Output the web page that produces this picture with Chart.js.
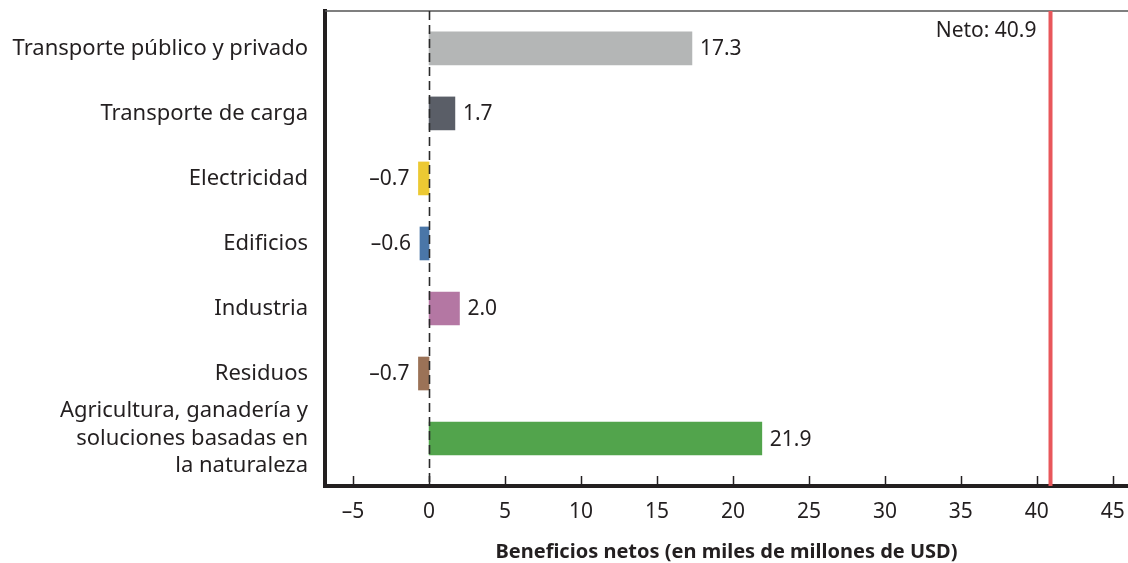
<!DOCTYPE html>
<html>
<head>
<meta charset="utf-8">
<script src="https://cdn.jsdelivr.net/npm/chart.js@4"></script>
<style>
    html, body { margin: 0; padding: 0; background: #fff; }
    #wrap { width: 1128px; height: 563px; position: relative; }
</style>
</head>
<body>
<div id="wrap"><canvas id="benefits_chart"></canvas></div>
<script>
const categories = [
    "Transporte público y privado",
    "Transporte de carga",
    "Electricidad",
    "Edificios",
    "Industria",
    "Residuos",
    ["Agricultura, ganadería y", "soluciones basadas en", "la naturaleza"]
];
const netBenefits = [17.3, 1.7, -0.7, -0.6, 2.0, -0.7, 21.9];
const barColors = ["#b4b6b6", "#5a5e67", "#ecc933", "#4a76a8", "#b477a3", "#9b7257", "#52a44c"];
const xTicks = [-5, 0, 5, 10, 15, 20, 25, 30, 35, 40, 45];
const netTotal = 40.9;

const textColor = "#231f20";
const fontFamily = "'Noto Sans', 'Open Sans', sans-serif";

function fmt(v, digits) {
    let s = Math.abs(v).toFixed(digits);
    return v < 0 ? "\u2013" + s : s;
}

// zero line, net line, inward ticks, top rule and value labels
const decorations = {
    id: "decorations",
    afterDatasetsDraw(chart) {
        const ctx = chart.ctx, area = chart.chartArea;
        const x = chart.scales.x;
        ctx.save();

        // top rule
        ctx.strokeStyle = "#555";
        ctx.lineWidth = 1.5;
        ctx.beginPath();
        ctx.moveTo(area.left, area.top);
        ctx.lineTo(area.right, area.top);
        ctx.stroke();

        // tick marks pointing up into the plot
        ctx.strokeStyle = textColor;
        ctx.lineWidth = 1.5;
        xTicks.forEach(function (t) {
            let px = Math.round(x.getPixelForValue(t)) + 0.5;
            ctx.beginPath();
            ctx.moveTo(px, area.bottom);
            ctx.lineTo(px, area.bottom - 10);
            ctx.stroke();
        });

        // dashed zero line
        let zx = Math.round(x.getPixelForValue(0)) + 0.5;
        ctx.setLineDash([9, 5]);
        ctx.strokeStyle = "#2a2a2a";
        ctx.lineWidth = 1.6;
        ctx.beginPath();
        ctx.moveTo(zx, area.top);
        ctx.lineTo(zx, area.bottom);
        ctx.stroke();
        ctx.setLineDash([]);

        // net total line
        let nx = x.getPixelForValue(netTotal);
        ctx.strokeStyle = "#e8575b";
        ctx.lineWidth = 4;
        ctx.beginPath();
        ctx.moveTo(nx, area.top);
        ctx.lineTo(nx, area.bottom);
        ctx.stroke();

        ctx.font = "21px " + fontFamily;
        ctx.fillStyle = textColor;
        ctx.textBaseline = "middle";
        ctx.textAlign = "right";
        ctx.fillText("Neto: " + netTotal.toFixed(1), nx - 14, area.top + 20);

        // value labels
        chart.getDatasetMeta(0).data.forEach(function (bar, i) {
            let v = netBenefits[i];
            if (v >= 0) {
                ctx.textAlign = "left";
                ctx.fillText(fmt(v, 1), bar.x + 8, bar.y + 1);
            } else {
                ctx.textAlign = "right";
                ctx.fillText(fmt(v, 1), bar.x - 9, bar.y + 1);
            }
        });
        ctx.restore();
    }
};

new Chart(document.getElementById("benefits_chart").getContext("2d"), {
    type: "bar",
    data: {
        datasets: [{
            data: netBenefits.map(function (v, i) { return { x: v, y: i }; }),
            backgroundColor: barColors,
            borderWidth: 0,
            barThickness: 33
        }]
    },
    options: {
        indexAxis: "y",
        responsive: true,
        maintainAspectRatio: false,
        animation: false,
        devicePixelRatio: 1,
        layout: { padding: { top: 11, left: 0, right: 0, bottom: 0 } },
        plugins: {
            legend: { display: false },
            tooltip: { enabled: false }
        },
        scales: {
            x: {
                type: "linear",
                position: "bottom",
                min: -6.85,
                max: 46,
                afterBuildTicks: function (scale) {
                    scale.ticks = xTicks.map(function (t) { return { value: t }; });
                },
                afterFit: function (scale) {
                    scale.height = 77;
                    scale.paddingLeft = 0;
                    scale.paddingRight = 0;
                },
                grid: { display: false, drawTicks: false },
                border: { display: true, color: textColor, width: 4 },
                ticks: {
                    padding: 13,
                    autoSkip: false,
                    maxRotation: 0,
                    color: textColor,
                    font: { family: fontFamily, size: 21 },
                    callback: function (v) { return fmt(v, 0); }
                },
                title: {
                    display: true,
                    text: "Beneficios netos (en miles de millones de USD)",
                    color: textColor,
                    font: { family: fontFamily, size: 20, weight: "bold" },
                    padding: { top: 0, bottom: -1 }
                }
            },
            y: {
                type: "linear",
                reverse: true,
                offset: false,
                min: -0.575,
                max: 6.73,
                afterBuildTicks: function (scale) {
                    scale.ticks = categories.map(function (c, i) { return { value: i }; });
                },
                afterFit: function (scale) {
                    scale.width = 325;
                    scale.paddingTop = 0;
                    scale.paddingBottom = 0;
                },
                grid: { display: false, drawTicks: false, offset: false },
                border: { display: true, color: textColor, width: 4 },
                ticks: {
                    padding: 17,
                    autoSkip: false,
                    color: textColor,
                    font: { family: fontFamily, size: 22, lineHeight: 1.25 },
                    callback: function (v) { return categories[v]; }
                }
            }
        }
    },
    plugins: [decorations]
});
</script>
</body>
</html>
